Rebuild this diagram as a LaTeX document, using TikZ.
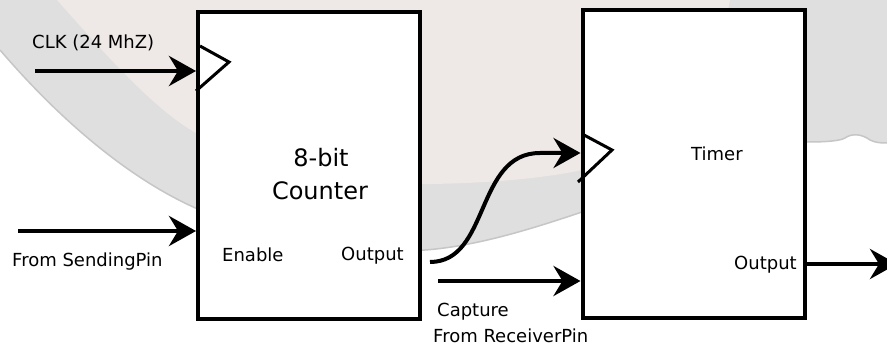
\documentclass[tikz,border=0pt]{standalone}
\usepackage{fontspec}
\setmainfont{DejaVu Sans}
\usetikzlibrary{arrows.meta}
\definecolor{plategray}{HTML}{DFDFDF}
\definecolor{platepink}{HTML}{EEE8E6}
\definecolor{rimedge}{HTML}{C6C6C6}
\begin{document}
\begin{tikzpicture}[x=1pt,y=-1pt,
  blockbox/.style={draw=black,fill=white,line width=4pt,inner sep=0pt},
  clkmark/.style={draw=black,line width=3pt,line join=miter},
  sig/.style={draw=black,line width=4.5pt,-{Stealth[length=27pt,width=30pt,inset=9pt]}},
  lbl/.style={font=\fontsize{18}{21}\selectfont,inner sep=0pt,anchor=base west},
  ttl/.style={font=\fontsize{24}{29}\selectfont,inner sep=0pt,anchor=base}]
\useasboundingbox (0,0) rectangle (887,347);
\clip (0,0) rectangle (887,347);
% background plate
\fill[white] (0,0) rectangle (887,347);
\fill[plategray] (0,50) .. controls (60,120) and (130,180) .. (200,210)
  .. controls (290,245) and (370,253) .. (425,250)
  .. controls (480,246) and (540,226) .. (582,212)
  .. controls (680,178) and (760,140) .. (808,142)
  .. controls (825,142) and (840,141) .. (845,138)
  .. controls (852,133) and (862,134) .. (870,140)
  .. controls (876,143) and (882,143) .. (887,143)
  -- (887,0) -- (0,0) -- cycle;
\draw[rimedge,line width=1.5pt] (0,50) .. controls (60,120) and (130,180) .. (200,210)
  .. controls (290,245) and (370,253) .. (425,250)
  .. controls (480,246) and (540,226) .. (582,212)
  .. controls (680,178) and (760,140) .. (808,142)
  .. controls (825,142) and (840,141) .. (845,138)
  .. controls (852,133) and (862,134) .. (870,140)
  .. controls (876,143) and (882,143) .. (887,143);
\fill[platepink] (57,0) .. controls (110,60) and (160,115) .. (200,135)
  .. controls (300,175) and (380,185) .. (430,184)
  .. controls (500,183) and (550,177) .. (582,170)
  .. controls (650,150) and (720,60) .. (730,0) -- cycle;
% blocks
\node[blockbox,minimum width=222pt,minimum height=307.5pt] (cnt) at (309,165.75) {};
\node[blockbox,minimum width=222.5pt,minimum height=308.5pt] (tim) at (693.75,164.25) {};
\draw[clkmark] (200,46) -- (229,62) -- (196,91);
\draw[clkmark] (584,135) -- (612,150) -- (578,182);
% texts
\node[lbl] (lclk) at (32,49) {CLK (24 MhZ)};
\node[lbl] (lsend) at (12,267) {From SendingPin};
\node[ttl] (t1) at (321,167) {8-bit};
\node[ttl] (t2) at (320,200) {Counter};
\node[lbl] (len) at (222,262) {Enable};
\node[lbl] (lco) at (341,260.5) {Output};
\node[lbl] (ltim) at (691,160.5) {Timer};
\node[lbl] (lto) at (734,270) {Output};
\node[lbl] (lcap) at (437,317) {Capture};
\node[lbl] (lrec) at (433,343) {From ReceiverPin};
% connectors
\coordinate (clkin) at (35,71);
\coordinate (enin) at (18,231);
\coordinate (cout) at (430,262);
\coordinate (sbend) at (540,153);
\coordinate (capin) at (438,281);
\coordinate (outend) at (897,264);
\draw[sig] (clkin) -- (clkin -| cnt.west);
\draw[sig] (enin) -- (enin -| cnt.west);
\draw[sig,line width=4pt] (cout) .. controls +(60,0) and +(-65,0) .. (sbend) -- (sbend -| tim.west);
\draw[sig] (capin) -- (capin -| tim.west);
\draw[sig] (tim.east |- outend) -- (outend);
\end{tikzpicture}
\end{document}
